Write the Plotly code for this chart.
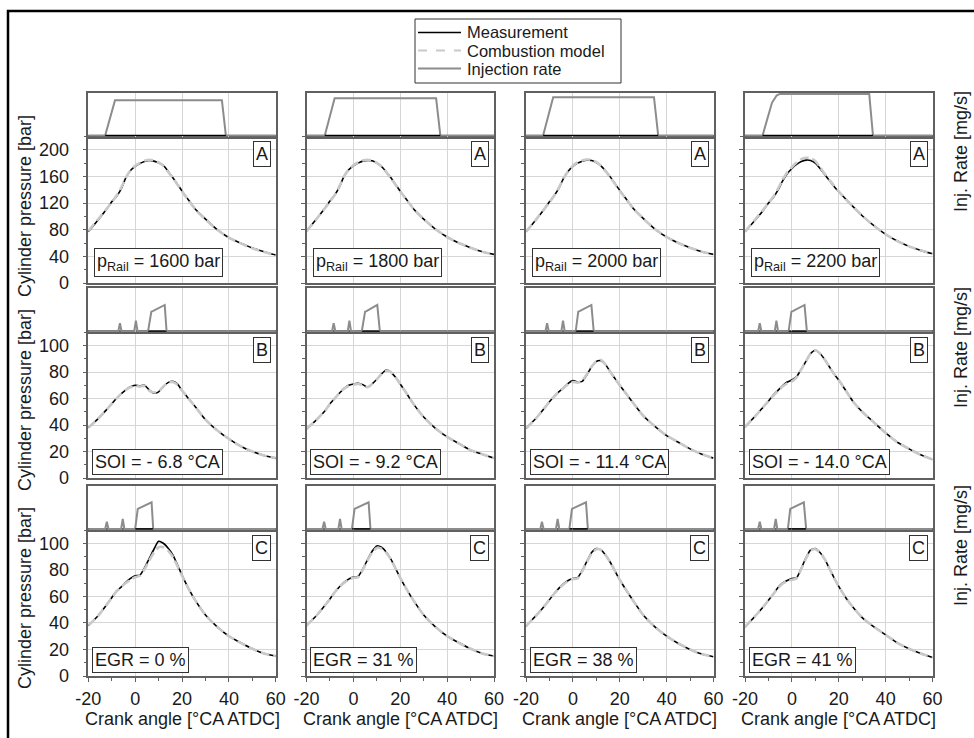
import plotly.graph_objects as go

W, H = 974, 738

# ---------------- data ----------------
crank = [-20, -16, -12, -10, -8, -6, -4, -2, 0, 2, 4, 6, 8, 10, 12, 14, 16, 18, 20, 23, 26, 30, 35, 40, 45, 50, 55, 60]

# Row A: rail pressure variation
pA1_meas = [77, 94, 112, 122, 130, 141, 158, 169, 175, 179.5, 182.5, 184, 183, 180.5, 176.5, 168, 158.5, 148.5, 138, 123.5, 109.5, 96, 80, 68, 60, 52.5, 47, 42]
pA1_model = [78, 95, 112, 121, 131, 143, 158, 169, 176, 180.5, 183.5, 185, 184, 181, 176, 167, 158, 148, 137.5, 123, 109, 95.5, 80, 68, 59.5, 52, 46.5, 42]
pA2_meas = [78, 95, 113, 123, 132, 144, 160, 170, 176, 180, 183, 184, 183.5, 180, 175, 167, 158, 148, 138, 124, 110, 96, 81, 69, 60, 53, 47, 43]
pA2_model = [78, 95, 113, 122, 132, 145, 160, 170, 177, 181, 184, 185, 184, 180.5, 175, 166.5, 157.5, 147.5, 137.5, 123.5, 110, 96, 81, 69, 60, 53, 47, 43]
pA3_meas = [77, 94, 112, 122, 131, 142, 157, 168, 175, 180, 183, 184.5, 184, 181, 176, 168, 159, 149, 139, 125, 111, 97, 81, 69, 60, 53, 47, 43]
pA3_model = [77, 94, 112, 121, 131, 143, 157, 168, 176, 181, 184, 185.5, 185, 181.5, 176, 167.5, 158.5, 148.5, 138.5, 124.5, 111, 97, 81, 69, 60, 53, 47, 43]
pA4_meas = [77, 93, 110, 120, 128, 139, 153, 164, 172, 178, 182.5, 184.5, 184, 180, 172, 163, 154, 145, 137, 126, 115, 101, 86, 73, 63, 55, 49, 44]
pA4_model = [77, 94, 111, 120, 129, 141, 155, 166, 174, 181, 186, 188, 187.5, 183, 174, 164, 155, 146, 137.5, 126, 115, 101, 86, 73, 63, 55, 49, 44]

# Row B: start of injection variation
pB1_meas = [38, 44.5, 52, 56, 60, 63.5, 66.5, 69, 70, 69.5, 70, 66.5, 64, 65, 69, 72, 73, 71, 66, 59.5, 53, 44, 36, 29.5, 24, 20, 17, 15]
pB1_model = [38, 44.5, 52, 56, 60, 63.5, 66.5, 68.5, 69.5, 69, 69.5, 66, 64.5, 65.5, 69, 72, 72.5, 70.5, 66, 59.5, 53, 44, 36, 29.5, 24, 20, 17, 15]
pB2_meas = [37, 43.5, 51, 56, 60, 64, 67.5, 70, 71, 71.5, 70.5, 68.5, 71, 74.5, 78.5, 81.5, 80, 76, 71, 63, 55, 46, 37.5, 31, 26, 21, 18, 15]
pB2_model = [37, 43.5, 51, 56, 60, 64, 67.5, 69.5, 70.5, 71, 70, 68.5, 71, 74.5, 78.5, 81, 80, 76, 71, 63, 55, 46, 37.5, 31, 26, 21, 18, 15]
pB3_meas = [37.5, 44.5, 53, 57.5, 61.5, 65, 68, 71.5, 73.5, 72.5, 73, 78, 84, 88, 88.5, 85.5, 80, 75, 70, 63, 56, 47, 39, 32, 27, 22, 18, 15]
pB3_model = [37.5, 44.5, 53, 57.5, 61.5, 65, 68, 71, 72.5, 72, 73.5, 78.5, 84, 88, 89, 85.5, 80, 75, 70, 63, 56, 47, 39, 32, 27, 22, 18, 15]
pB4_meas = [38.5, 46, 54, 58, 62.5, 66, 69.5, 72.5, 74, 76.5, 82, 88, 94, 96.5, 94, 89.5, 84, 78.5, 74, 66, 58, 50, 42, 34, 27, 22, 17.5, 14]
pB4_model = [38.5, 46, 54, 58, 62, 65.5, 69, 71.5, 73, 76, 82, 88, 94, 96.5, 94, 89.5, 84, 78.5, 74, 66, 58, 50, 42, 34, 27, 22, 17.5, 14]

# Row C: EGR variation
pC1_meas = [38, 45, 54, 59, 64, 67, 70.5, 73.5, 75.5, 76, 81.5, 88.5, 95.5, 101.5, 100, 96.5, 91.5, 84, 76, 65, 56, 46, 37, 30, 25, 20.5, 17, 15]
pC1_model = [38, 45, 54, 59, 63.5, 67, 70, 72.5, 74.5, 75.5, 80.5, 87, 93, 97, 97, 94.5, 90, 83, 75.5, 65, 56, 46, 37, 30, 25, 20.5, 17, 15]
pC2_meas = [38, 45, 53.5, 58, 63, 67, 70.5, 73, 74.5, 75, 80.5, 87.5, 94, 98, 97, 93.5, 88, 81, 74, 64.5, 56, 46, 37, 30, 25, 20.5, 17, 15]
pC2_model = [38, 45, 53.5, 58, 63, 67, 70, 72.5, 74, 74.5, 80, 87, 93, 96.5, 96, 93, 88, 81, 74, 64.5, 56, 46, 37, 30, 25, 20.5, 17, 15]
pC3_meas = [37.5, 45, 53, 57.5, 62, 66, 69.5, 72, 73.5, 74, 79.5, 86.5, 93, 96, 95, 91, 85.5, 79, 72.5, 64, 56, 46, 37, 30, 24.5, 20, 16.5, 14.5]
pC3_model = [37.5, 45, 53, 57.5, 62, 66, 69, 71.5, 73, 73.5, 79, 86, 92.5, 95.5, 95, 91, 85.5, 79, 72.5, 64, 56, 46, 37, 30, 24.5, 20, 16.5, 14.5]
pC4_meas = [37, 44.5, 52.5, 57, 61.5, 66.5, 70, 72, 73.5, 74, 81, 89, 95, 96, 93, 88, 81, 74, 67.5, 59, 52, 44, 37, 31, 25, 20.5, 17, 14]
pC4_model = [37, 44.5, 52.5, 57, 61.5, 66, 69.5, 71.5, 72.5, 73.5, 80.5, 88.5, 94.5, 95.5, 93, 88, 81, 74, 67.5, 59, 52, 44, 37, 31, 25, 20.5, 17, 14]

# Injection rate profiles
injA1_x = [-20, -12.8, -8.6, 37.0, 38.7, 60]
injA1_y = [0, 0, 41, 41, 0, 0]
injA2_x = [-20, -12.2, -8.0, 35.3, 37.1, 60]
injA2_y = [0, 0, 43.3, 43.3, 0, 0]
injA3_x = [-20, -12.7, -8.4, 34.6, 36.4, 60]
injA3_y = [0, 0, 44.5, 44.5, 0, 0]
injA4_x = [-20, -12.5, -8.5, -6.5, -5.2, 33.0, 34.6, 60]
injA4_y = [0, 0, 38, 46.5, 48.3, 48.3, 0, 0]

injB1_x = [-20, -7.2, -6.5, -5.8, -0.4, 0.3, 1.0, 5.5, 6.9, 7.5, 12.6, 13.4, 60]
injB2_x = [-20, -9.1, -8.4, -7.7, -2.4, -1.7, -1.0, 3.6, 5.0, 5.6, 10.2, 11.3, 60]
injB3_x = [-20, -11.7, -11.0, -10.3, -4.9, -4.2, -3.5, 1.2, 2.3, 2.9, 7.9, 8.9, 60]
injB4_x = [-20, -14.4, -13.7, -13.0, -7.3, -6.6, -5.9, -1.4, -0.2, 0.4, 5.4, 6.4, 60]
injB_y = [0, 0, 9.3, 0, 0, 12.3, 0, 0, 22.8, 23.5, 30.6, 0, 0]

injC1_x = [-20, -12.8, -12.1, -11.4, -6.0, -5.3, -4.6, 0.0, 1.1, 1.7, 7.0, 7.7, 60]
injC2_x = [-20, -13.2, -12.5, -11.8, -6.4, -5.7, -5.0, -0.6, 0.5, 1.1, 6.5, 7.3, 60]
injC3_x = [-20, -13.9, -13.2, -12.5, -7.2, -6.5, -5.8, -1.5, -0.4, 0.2, 5.6, 6.4, 60]
injC4_x = [-20, -14.4, -13.7, -13.0, -7.6, -6.9, -6.2, -1.7, -0.7, -0.1, 5.1, 6.1, 60]
injC_y = [0, 0, 8.5, 0, 0, 11.6, 0, 0, 23.3, 24, 31, 0, 0]

# Panel labels
row_letters = ["A", "B", "C"]
case_labels = [
    ["p<sub>Rail</sub> = 1600 bar", "p<sub>Rail</sub> = 1800 bar", "p<sub>Rail</sub> = 2000 bar", "p<sub>Rail</sub> = 2200 bar"],
    ["SOI = - 6.8 °CA", "SOI = - 9.2 °CA", "SOI = - 11.4 °CA", "SOI = - 14.0 °CA"],
    ["EGR = 0 %", "EGR = 31 %", "EGR = 38 %", "EGR = 41 %"],
]
x_tick_vals = [-20, 0, 20, 40, 60]
x_tick_text = ["-20", "0", "20", "40", "60"]
x_minor_vals = [-10, 10, 30, 50]
x_title = "Crank angle [°CA ATDC]"
y_title = "Cylinder pressure [bar]"
inj_title = "Inj. Rate [mg/s]"
legend_names = ["Measurement", "Combustion model", "Injection rate"]

meas_rows = [[pA1_meas, pA2_meas, pA3_meas, pA4_meas],
             [pB1_meas, pB2_meas, pB3_meas, pB4_meas],
             [pC1_meas, pC2_meas, pC3_meas, pC4_meas]]
model_rows = [[pA1_model, pA2_model, pA3_model, pA4_model],
              [pB1_model, pB2_model, pB3_model, pB4_model],
              [pC1_model, pC2_model, pC3_model, pC4_model]]
inj_x_rows = [[injA1_x, injA2_x, injA3_x, injA4_x],
              [injB1_x, injB2_x, injB3_x, injB4_x],
              [injC1_x, injC2_x, injC3_x, injC4_x]]
inj_y_rows = [[injA1_y, injA2_y, injA3_y, injA4_y],
              [injB_y] * 4,
              [injC_y] * 4]
main_start_idx = [1, 7, 7]

# ---------------- layout geometry (pixels) ----------------
col_left = [88.3, 306.5, 526.0, 745.0]
col_w = 187.5
inj_top = [92.5, 288.3, 486.0]
pres_top = [136.5, 332.3, 530.0]
pres_bot = [283.0, 478.0, 676.0]
y_ranges = [[0, 220], [0, 110], [0, 110]]
y_dticks = [40, 20, 20]
y_minor = [20, 10, 10]

FONT = "Liberation Sans, Arial, Helvetica, sans-serif"
FS = 18
BORDER = "#606060"
GRID = "#d6d6d6"
TXT = "#1a1a1a"
INJ_COL = "#8c8c8c"
MODEL_COL = "#c9c9c9"


def px(x):
    return x / W


def py(y):
    return 1 - y / H


fig = go.Figure()
layout = {}
annotations = []

for r in range(3):
    for c in range(4):
        k = r * 4 + c + 1
        j = 12 + k
        xd = [px(col_left[c]), px(col_left[c] + col_w)]
        bottom = (r == 2)

        base_x = dict(domain=xd, range=[-20, 60], showline=True, mirror=True,
                      linecolor=BORDER, linewidth=1.5, showgrid=True, gridcolor=GRID,
                      gridwidth=1, zeroline=False, tickmode="array", automargin=False,
                      tickvals=x_tick_vals, ticktext=x_tick_text,
                      tickfont=dict(family=FONT, size=FS, color=TXT))
        xp = dict(base_x, anchor="y%d" % k)
        if bottom:
            xp.update(showticklabels=True, ticks="outside", ticklen=4, tickwidth=1,
                      tickcolor=BORDER, ticklabelstandoff=2,
                      minor=dict(tickvals=x_minor_vals, ticks="outside", ticklen=3,
                                 tickcolor=BORDER, showgrid=False))
        else:
            xp.update(showticklabels=False, ticks="")
        xi = dict(base_x, anchor="y%d" % j, showticklabels=False, ticks="")
        layout["xaxis%d" % k] = xp
        layout["xaxis%d" % j] = xi

        layout["yaxis%d" % k] = dict(
            domain=[py(pres_bot[r]), py(pres_top[r])], anchor="x%d" % k,
            range=y_ranges[r], tickmode="linear", tick0=0, dtick=y_dticks[r],
            showline=True, mirror=True, linecolor=BORDER, linewidth=1.5,
            showgrid=True, gridcolor=GRID, gridwidth=1, zeroline=False,
            ticks="outside", ticklen=4, tickcolor=BORDER, automargin=False,
            showticklabels=(c == 0), ticklabelstandoff=10,
            tickfont=dict(family=FONT, size=FS, color=TXT),
            minor=dict(dtick=y_minor[r], tick0=0, ticks="outside", ticklen=3,
                       tickcolor=BORDER, showgrid=False))
        layout["yaxis%d" % j] = dict(
            domain=[py(pres_top[r]), py(inj_top[r])], anchor="x%d" % j,
            range=[-1.2, 50], showline=True, mirror=True, linecolor=BORDER,
            linewidth=1.5, showgrid=False, zeroline=False, showticklabels=False,
            ticks="", automargin=False)

        # injection traces
        ix = inj_x_rows[r][c]
        iy = inj_y_rows[r][c]
        fig.add_trace(go.Scatter(x=ix, y=iy, mode="lines", xaxis="x%d" % j, yaxis="y%d" % j,
                                 line=dict(color=INJ_COL, width=2), name=legend_names[2],
                                 showlegend=False, hoverinfo="skip"))
        s = ix[main_start_idx[r]]
        e = ix[-2]
        fig.add_trace(go.Scatter(x=[s, e], y=[0, 0], mode="lines", xaxis="x%d" % j, yaxis="y%d" % j,
                                 line=dict(color="black", width=1.2), showlegend=False,
                                 hoverinfo="skip"))
        # pressure traces
        fig.add_trace(go.Scatter(x=crank, y=meas_rows[r][c], mode="lines",
                                 xaxis="x%d" % k, yaxis="y%d" % k,
                                 line=dict(color="black", width=1.6, shape="spline", smoothing=0.6),
                                 name=legend_names[0], showlegend=False))
        fig.add_trace(go.Scatter(x=crank, y=model_rows[r][c], mode="lines",
                                 xaxis="x%d" % k, yaxis="y%d" % k,
                                 line=dict(color=MODEL_COL, width=2.6, dash="9px,4px",
                                           shape="spline", smoothing=0.6),
                                 name=legend_names[1], showlegend=False))

        # letter box (top right)
        annotations.append(dict(
            text=row_letters[r], xref="paper", yref="paper",
            x=px(col_left[c] + col_w - 5), y=py(pres_top[r] + 5),
            xanchor="right", yanchor="top", showarrow=False,
            font=dict(family=FONT, size=FS, color=TXT),
            bordercolor="#333333", borderwidth=1, borderpad=2, bgcolor="white"))
        # case label box (bottom left)
        off_x = 6 if r == 0 else 3.5
        off_y = 6 if r == 0 else 3
        annotations.append(dict(
            text=case_labels[r][c], xref="paper", yref="paper",
            x=px(col_left[c] + off_x), y=py(pres_bot[r] - off_y),
            xanchor="left", yanchor="bottom", showarrow=False,
            font=dict(family=FONT, size=FS, color=TXT),
            bordercolor="#333333", borderwidth=1, borderpad=2, bgcolor="white"))

# axis titles
for r in range(3):
    annotations.append(dict(
        text=y_title, xref="paper", yref="paper", x=px(25), y=py([206, 400, 598][r]),
        xanchor="center", yanchor="middle", textangle=-90, showarrow=False,
        font=dict(family=FONT, size=FS, color=TXT)))
    annotations.append(dict(
        text=inj_title, xref="paper", yref="paper", x=px(961), y=py([152, 348, 546][r]),
        xanchor="center", yanchor="middle", textangle=-90, showarrow=False,
        font=dict(family=FONT, size=FS, color=TXT)))
for c in range(4):
    annotations.append(dict(
        text=x_title, xref="paper", yref="paper", x=px(col_left[c] + col_w / 2), y=py(719),
        xanchor="center", yanchor="middle", showarrow=False,
        font=dict(family=FONT, size=FS, color=TXT)))

# legend (drawn as a framed key)
shapes = [dict(type="rect", xref="paper", yref="paper",
               x0=px(8), x1=px(1000), y0=py(760), y1=py(11),
               line=dict(color="black", width=2.5), fillcolor="rgba(0,0,0,0)", layer="above"),
          dict(type="rect", xref="paper", yref="paper",
               x0=px(415), x1=px(621), y0=py(83), y1=py(19),
               line=dict(color="#333333", width=1), fillcolor="white", layer="above")]
leg_y = [32.5, 50.5, 68.5]
leg_styles = [dict(color="black", width=1.6),
              dict(color=MODEL_COL, width=2.2, dash="dash"),
              dict(color=INJ_COL, width=2)]
for i, name in enumerate(legend_names):
    shapes.append(dict(type="line", xref="paper", yref="paper",
                       x0=px(418), x1=px(461), y0=py(leg_y[i]), y1=py(leg_y[i]),
                       line=leg_styles[i], layer="above"))
    annotations.append(dict(
        text=name, xref="paper", yref="paper", x=px(466), y=py(leg_y[i]),
        xanchor="left", yanchor="middle", showarrow=False, borderpad=0,
        font=dict(family=FONT, size=16.5, color=TXT)))

fig.update_layout(
    width=W, height=H, autosize=False,
    margin=dict(l=0, r=0, t=0, b=0, pad=0, autoexpand=False),
    paper_bgcolor="white", plot_bgcolor="white",
    annotations=annotations, shapes=shapes,
    showlegend=False,
    **layout,
)

fig.write_html("out.html")
